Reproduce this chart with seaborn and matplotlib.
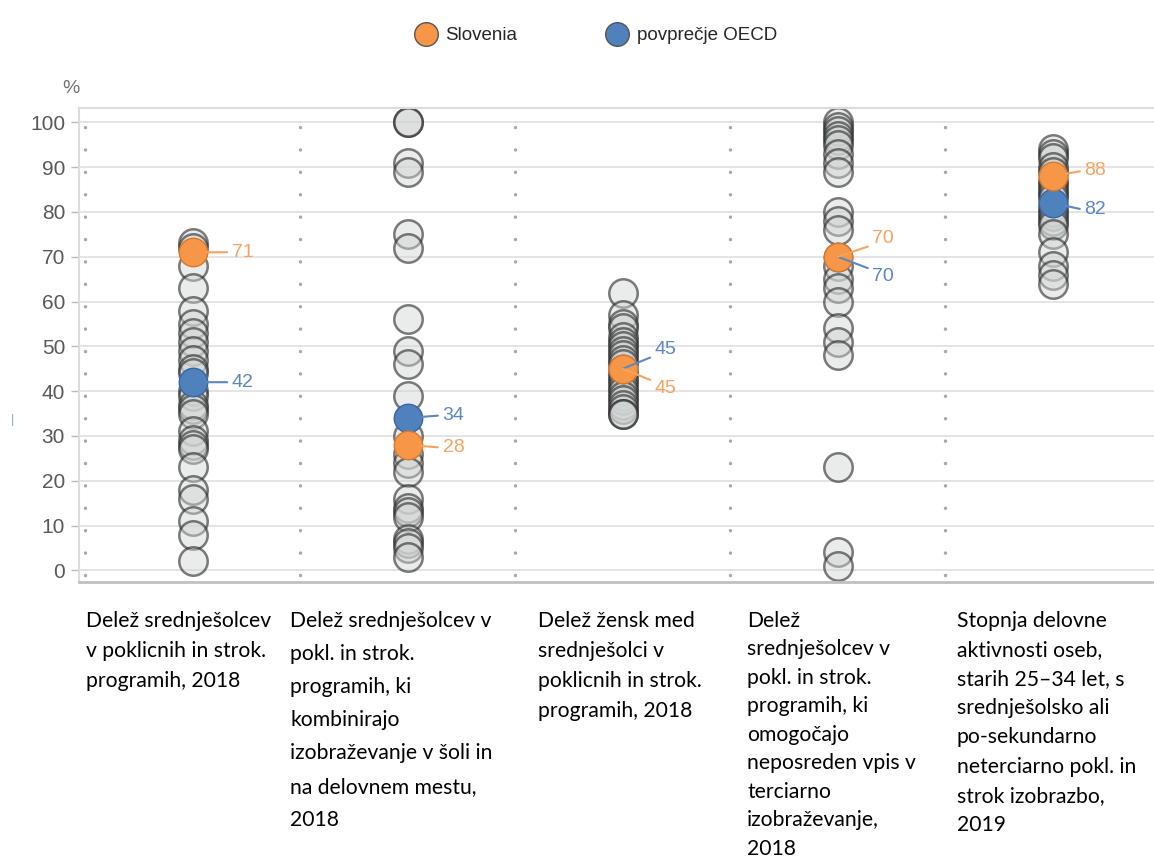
import numpy as np
import pandas as pd
import matplotlib.pyplot as plt
import seaborn as sns
from matplotlib.lines import Line2D

# Indicator labels (x categories)
categories = [
    "Delež srednješolcev\nv poklicnih in strok.\nprogramih, 2018",
    "Delež srednješolcev v\npokl. in strok.\nprogramih, ki\nkombinirajo\nizobraževanje v šoli in\nna delovnem mestu,\n2018",
    "Delež žensk med\nsrednješolci v\npoklicnih in strok.\nprogramih, 2018",
    "Delež\nsrednješolcev v\npokl. in strok.\nprogramih, ki\nomogočajo\nneposreden vpis v\nterciarno\nizobraževanje,\n2018",
    "Stopnja delovne\naktivnosti oseb,\nstarih 25–34 let, s\nsrednješolsko ali\npo-sekundarno\nneterciarno pokl. in\nstrok izobrazbo,\n2019",
]

# OECD countries
countries_1 = [73, 72, 68, 63, 58, 55, 53, 51, 49, 47, 45, 44, 40, 39, 37, 36, 35,
               31, 29, 28, 27, 23, 18, 16, 11, 8, 2]
countries_2 = [100, 100, 91, 89, 75, 72, 56, 49, 46, 39, 30, 26, 24, 22, 16, 14, 13,
               12, 7, 6, 5, 3]
countries_3 = [62, 57, 55, 54, 52, 51, 50, 49, 48, 47, 46, 44, 43, 42, 41, 40, 39,
               38, 37, 36, 35, 35]
countries_4 = [100, 99, 98, 97, 96, 95, 93, 91, 89, 80, 78, 76, 68, 65, 63, 60, 54,
               51, 48, 23, 4, 1]
countries_5 = [94, 93, 92, 90, 89, 87, 86, 85, 84, 83, 81, 80, 79, 78, 77, 75, 71,
               68, 66, 64]

slovenia = [71, 28, 45, 70, 88]
oecd_avg = [42, 34, 45, 70, 82]

# label offsets (points) for the value annotations
slo_offsets = [(28, 0), (25, -2), (23, -14), (25, 13), (23, 4)]
oecd_offsets = [(28, 0), (25, 2), (23, 14), (25, -14), (23, -5)]

ORANGE = "#F79646"
BLUE = "#4F81BD"
ORANGE_TXT = "#F5A35E"
BLUE_TXT = "#5B87C5"

rows = []
for i, vals in enumerate([countries_1, countries_2, countries_3, countries_4, countries_5]):
    for v in vals:
        rows.append({"pos": i, "value": v})
df = pd.DataFrame(rows)
df_slo = pd.DataFrame({"pos": range(5), "value": slovenia})
df_oecd = pd.DataFrame({"pos": range(5), "value": oecd_avg})

sns.set_style("white")
plt.rcParams["font.family"] = ["Liberation Sans", "DejaVu Sans"]

fig = plt.figure(figsize=(11.54, 8.66), dpi=100)
ax = fig.add_axes([79 / 1154, 1 - 582 / 866, 1081 / 1154, (582 - 108) / 866])

# background grid and dotted separators between indicators
for yv in range(0, 101, 10):
    ax.axhline(yv, color="#e4e4e4", lw=1.4, zorder=0)
sep = ax.vlines([-0.5, 0.5, 1.5, 2.5, 3.5], -1, 100, colors="#a8a8a8",
                linestyles=(0, (0.01, 6.44)), lw=2.5, zorder=0)
sep.set_capstyle("round")

sns.scatterplot(data=df, x="pos", y="value", s=420, color=(0.82, 0.83, 0.83, 0.45),
                edgecolor=(0.15, 0.15, 0.15, 0.6), linewidth=1.8, ax=ax, zorder=2)
sns.scatterplot(data=df_oecd, x="pos", y="value", s=420, color=BLUE,
                edgecolor="#3c64a0", linewidth=1, ax=ax, zorder=3)
sns.scatterplot(data=df_slo, x="pos", y="value", s=420, color=ORANGE,
                edgecolor="#d9782c", linewidth=1, ax=ax, zorder=4)

for i in range(5):
    for val, off, col in [(oecd_avg[i], oecd_offsets[i], BLUE_TXT),
                          (slovenia[i], slo_offsets[i], ORANGE_TXT)]:
        shrink = 10 if abs(off[1]) < 6 else 0
        rel = (0, 0.5) if abs(off[1]) < 6 else ((0.05, 0.15) if off[1] > 0 else (0.05, 0.85))
        ax.annotate(str(val), xy=(i, val), xytext=off, textcoords="offset points",
                    ha="left", va="center", fontsize=14, color=col, zorder=5,
                    arrowprops=dict(arrowstyle="-", color=col, lw=1.5,
                                    shrinkA=1, shrinkB=shrink, relpos=rel))

ax.set_xlim(-0.53, 4.5)
ax.set_ylim(-2.6, 103.2)
ax.set_yticks(range(0, 101, 10))
ax.set_xticks([])
ax.set_xlabel("")
ax.set_ylabel("")
ax.tick_params(axis="y", left=True, length=6, width=1, color="#bbbbbb",
               labelsize=15, labelcolor="#595959", pad=4)
for side in ["left", "top"]:
    ax.spines[side].set_color("#dcdcdc")
    ax.spines[side].set_linewidth(1.5)
ax.spines["bottom"].set_color("#c0c0c0")
ax.spines["bottom"].set_linewidth(2)
ax.spines["right"].set_visible(False)
ax.text(-0.007, 1.042, "%", transform=ax.transAxes, ha="center", va="center",
        fontsize=14, color="#707070")
fig.text(13 / 1154, 1 - 420 / 866, "|", ha="center", va="center", fontsize=9,
         color="#8aa3c4")

# category labels below the axis
label_x = [86, 290, 538, 747, 957]
label_ls = [1.64, 1.82, 1.62, 1.53, 1.57]
for lx, lab, ls in zip(label_x, categories, label_ls):
    fig.text(lx / 1154, 1 - 611 / 866, lab, ha="left", va="top", fontsize=15.2,
             family=["Lato", "DejaVu Sans"], linespacing=ls, color="#000000")

handles = [
    Line2D([], [], marker="o", ls="", markersize=17, markerfacecolor=ORANGE,
           markeredgecolor="#555555", markeredgewidth=1),
    Line2D([], [], marker="o", ls="", markersize=17, markerfacecolor=BLUE,
           markeredgecolor="#555555", markeredgewidth=1),
]
fig.legend(handles, ["Slovenia", "povprečje OECD"], loc="upper center",
           bbox_to_anchor=(0.513, 0.988), ncol=2, frameon=False, fontsize=13.5,
           handletextpad=0.05, columnspacing=4.3)

fig.savefig("out.png", dpi=100)
